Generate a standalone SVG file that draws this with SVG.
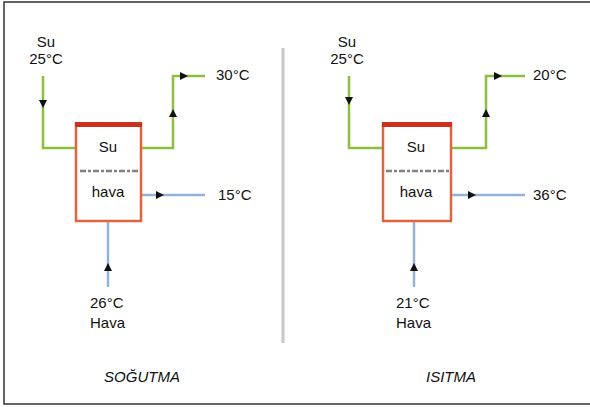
<svg xmlns="http://www.w3.org/2000/svg" width="590" height="407" viewBox="0 0 590 407">
<style>
text{font-family:"Liberation Sans",Arial,sans-serif;font-size:15px;fill:#111}
.m{text-anchor:middle}
.i{font-style:italic}
.g{fill:none;stroke:#8cbf3a;stroke-width:2.5}
.b{fill:none;stroke:#93b3d9;stroke-width:2.5}
.box{fill:#fff;stroke:#e2643c;stroke-width:2.5}
.top{fill:#c8321e}
.d{stroke:#808080;stroke-width:2.5;stroke-dasharray:6 2 3 2}
</style>
<defs>
<path id="arr" d="M-4,-4 L4,0 L-4,4 Z" fill="#111"/>
</defs>
<rect x="0" y="0" width="590" height="407" fill="#fff"/>
<rect x="4" y="2" width="600" height="402" fill="none" stroke="#333" stroke-width="1.5"/>
<line x1="283" y1="48" x2="283" y2="343" stroke="#c8c8c8" stroke-width="3"/>
<g id="connectors">
<polyline class="g" points="43,76 43,148 76,148"/>
<polyline class="g" points="141,148 173,148 173,76 205,76"/>
<line class="b" x1="141" y1="195" x2="205" y2="195"/>
<line class="b" x1="108" y1="221" x2="108" y2="287"/>
<polyline class="g" points="349,76 349,148 383,148"/>
<polyline class="g" points="451,148 486,148 486,76 525,76"/>
<line class="b" x1="451" y1="195" x2="525" y2="195"/>
<line class="b" x1="414" y1="221" x2="414" y2="287"/>
<use href="#arr" transform="translate(43,104) rotate(90)"/>
<use href="#arr" transform="translate(173,113) rotate(-90)"/>
<use href="#arr" transform="translate(184,76)"/>
<use href="#arr" transform="translate(160,195)"/>
<use href="#arr" transform="translate(108,267) rotate(-90)"/>
<use href="#arr" transform="translate(349,101) rotate(90)"/>
<use href="#arr" transform="translate(486,113) rotate(-90)"/>
<use href="#arr" transform="translate(498,76)"/>
<use href="#arr" transform="translate(472,195)"/>
<use href="#arr" transform="translate(414,267) rotate(-90)"/>
</g>
<g id="cool-box">
<rect class="box" x="76" y="124" width="65" height="97"/>
<rect class="top" x="75" y="122" width="67" height="5"/>
<line class="d" x1="80" y1="171" x2="140" y2="171"/>
<text class="m" x="108" y="152">Su</text>
<text class="m" x="108" y="197">hava</text>
</g>
<g id="heat-box">
<rect class="box" x="383" y="124" width="68" height="97"/>
<rect class="top" x="382" y="122" width="70" height="5"/>
<line class="d" x1="386" y1="171" x2="450" y2="171"/>
<text class="m" x="416" y="152">Su</text>
<text class="m" x="416" y="197">hava</text>
</g>
<g id="cool-labels">
<text class="m" x="46" y="47">Su</text>
<text class="m" x="46" y="64">25°C</text>
<text x="216" y="80">30°C</text>
<text x="218" y="200">15°C</text>
<text x="90" y="308">26°C</text>
<text x="90" y="328">Hava</text>
<text class="m i" x="142" y="382">SOĞUTMA</text>
</g>
<g id="heat-labels">
<text class="m" x="347" y="47">Su</text>
<text class="m" x="347" y="64">25°C</text>
<text x="533" y="80">20°C</text>
<text x="533" y="200">36°C</text>
<text x="396" y="308">21°C</text>
<text x="396" y="328">Hava</text>
<text class="m i" x="451" y="382">ISITMA</text>
</g>
</svg>
